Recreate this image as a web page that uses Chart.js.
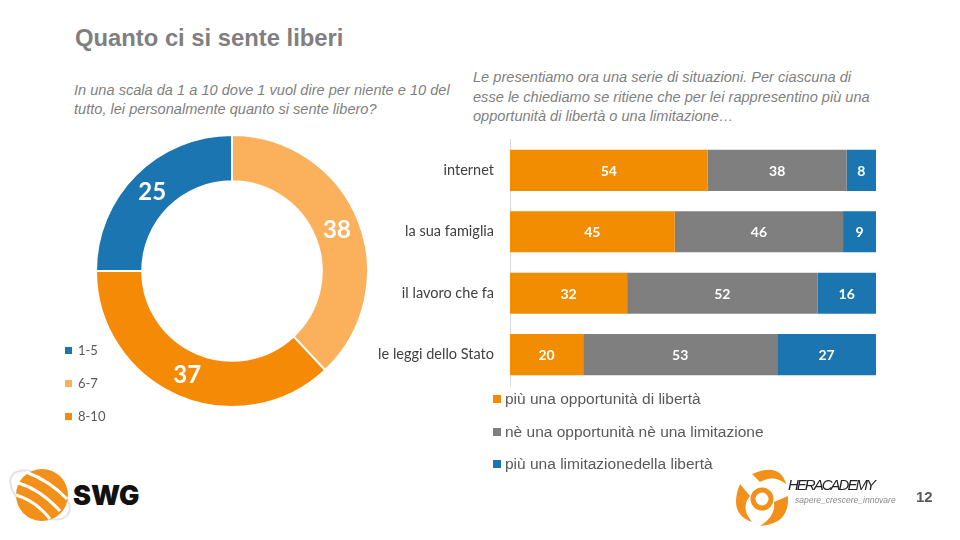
<!DOCTYPE html>
<html>
<head>
<meta charset="utf-8">
<script src="https://cdn.jsdelivr.net/npm/chart.js@4"></script>
<style>
  body { margin: 0; background: #fff; }
  #page { position: relative; width: 960px; height: 540px; overflow: hidden; background: #fff; font-family: "Liberation Sans", Arial, sans-serif; }
  .abs { position: absolute; }
  #title { left: 75px; top: 24px; font-size: 23.8px; font-weight: bold; color: #7f7f7f; }
  .sub { font-style: italic; color: #7f7f7f; font-size: 14.6px; line-height: 18.5px; }
  #subL { left: 74px; top: 81px; width: 385px; }
  #subR { left: 473px; top: 68px; width: 410px; line-height: 19.5px; }
  .leg { font-size: 13px; color: #595959; font-family: Lato, "Open Sans", sans-serif; }
  .leg span.sq { display: inline-block; width: 7px; height: 7px; margin-right: 6px; vertical-align: 1px; }
  .leg2 { font-size: 15.5px; color: #595959; }
  .leg2 span.sq { display: inline-block; width: 8px; height: 8px; margin-right: 4px; vertical-align: 1px; }
  #pnum { left: 916px; top: 488px; font-size: 15px; font-weight: bold; color: #595959; }
</style>
</head>
<body>
<div id="page">
  <div id="title" class="abs">Quanto ci si sente liberi</div>
  <div id="subL" class="abs sub">In una scala da 1 a 10 dove 1 vuol dire per niente e 10 del tutto, lei personalmente quanto si sente libero?</div>
  <div id="subR" class="abs sub">Le presentiamo ora una serie di situazioni. Per ciascuna di esse le chiediamo se ritiene che per lei rappresentino più una opportunità di libertà o una limitazione…</div>

  <canvas id="donut" class="abs" style="left:95px;top:134px" width="274" height="274"></canvas>
  <div id="donutLegend"></div>

  <canvas id="bars" class="abs" style="left:350px;top:115px" width="526" height="295"></canvas>
  <div id="barLegend"></div>

  <svg class="abs" style="left:0;top:455px" width="160" height="80">
    <ellipse cx="40" cy="40" rx="34" ry="18" fill="none" stroke="#e3e3e3" stroke-width="2" transform="rotate(35 40 40)"/>
    <circle cx="42" cy="40" r="26" fill="#f39019"/>
    <path d="M18 28 Q40 34 60 56" stroke="#fff" stroke-width="3" fill="none"/>
    <path d="M16 40 Q36 46 50 64" stroke="#fff" stroke-width="3" fill="none"/>
    <path d="M26 17 Q50 26 67 44" stroke="#fff" stroke-width="3" fill="none"/>
    <text x="73" y="50" font-family="Inter, 'DejaVu Sans', sans-serif" font-weight="900" font-size="27" fill="#111">SWG</text>
  </svg>

  <svg class="abs" style="left:730px;top:462px" width="180" height="70">
    <path d="M22 12 Q50 0 56 22 Q44 12 30 20 Z" fill="#f39019"/>
    <path d="M10 22 Q-2 52 22 60 Q10 46 20 34 Z" fill="#f39019"/>
    <path d="M58 34 Q60 62 30 64 Q46 54 44 40 Z" fill="#f39019"/>
    <circle cx="32" cy="37" r="9" fill="none" stroke="#f39019" stroke-width="5"/>
    <text x="58" y="28" font-family="'Liberation Sans', Arial" font-style="italic" font-size="15" fill="#222" textLength="88">HERACADEMY</text>
    <text x="65" y="41" font-family="'Liberation Sans', Arial" font-style="italic" font-size="8.5" fill="#888">sapere_crescere_innovare</text>
  </svg>

  <div id="pnum" class="abs">12</div>
</div>

<script>
// donut data
const donutLabels = ["1-5", "6-7", "8-10"];
const donutValues = [25, 38, 37];
const donutColors = ["#1a75b0", "#fbb05c", "#f58a07"];

// bar data
const barCategories = ["internet", "la sua famiglia", "il lavoro che fa", "le leggi dello Stato"];
const seriesNames = ["più una opportunità di libertà", "nè una opportunità nè una limitazione", "più una limitazionedella libertà"];
const seriesOpportunita = [54, 45, 32, 20];
const seriesNeutro = [38, 46, 52, 53];
const seriesLimitazione = [8, 9, 16, 27];
const barColors = ["#f28c00", "#7f7f7f", "#1a75b0"];

// write values on each element
const valueLabels = {
  id: "valueLabels",
  afterDatasetsDraw(chart, args, opts) {
    const ctx = chart.ctx;
    ctx.save();
    ctx.fillStyle = "#fff";
    ctx.font = opts.font;
    ctx.textAlign = "center";
    ctx.textBaseline = "middle";
    chart.data.datasets.forEach((ds, i) => {
      chart.getDatasetMeta(i).data.forEach((el, j) => {
        let p;
        if (chart.config.type === "doughnut") {
          p = el.tooltipPosition();
        } else {
          p = el.getCenterPoint();
        }
        ctx.fillText(ds.data[j], p.x, p.y + 1);
      });
    });
    ctx.restore();
  }
};

new Chart(document.getElementById("donut"), {
  type: "doughnut",
  data: {
    labels: donutLabels,
    datasets: [{
      data: donutValues,
      backgroundColor: donutColors,
      borderColor: "#fff",
      borderWidth: 2
    }]
  },
  options: {
    responsive: false,
    animation: false,
    rotation: 270,
    cutout: "66%",
    layout: { padding: 0 },
    plugins: {
      legend: { display: false },
      tooltip: { enabled: false },
      valueLabels: { font: "bold 24px Lato, 'Open Sans', sans-serif" }
    }
  },
  plugins: [valueLabels]
});

new Chart(document.getElementById("bars"), {
  type: "bar",
  data: {
    labels: barCategories,
    datasets: [
      { label: seriesNames[0], data: seriesOpportunita, backgroundColor: barColors[0] },
      { label: seriesNames[1], data: seriesNeutro, backgroundColor: barColors[1] },
      { label: seriesNames[2], data: seriesLimitazione, backgroundColor: barColors[2] }
    ]
  },
  options: {
    responsive: false,
    animation: false,
    indexAxis: "y",
    categoryPercentage: 1,
    barPercentage: 0.67,
    layout: { padding: 0 },
    scales: {
      x: { stacked: true, display: false, min: 0, max: 100 },
      y: {
        stacked: true,
        grid: { display: false, drawTicks: false },
        border: { display: true, color: "#d9d9d9", width: 1 },
        ticks: { color: "#404040", font: { family: "Lato, 'Open Sans', sans-serif", size: 14.5 }, padding: 16 },
        afterFit(scale) { scale.width = 160; }
      }
    },
    plugins: {
      legend: { display: false },
      tooltip: { enabled: false },
      valueLabels: { font: "bold 14px Lato, 'Open Sans', sans-serif" }
    }
  },
  plugins: [valueLabels]
});

// legends
const dl = document.getElementById("donutLegend");
donutLabels.forEach((l, i) => {
  const d = document.createElement("div");
  d.className = "abs leg";
  d.style.left = "65px";
  d.style.top = (342 + i * 33) + "px";
  d.innerHTML = '<span class="sq" style="background:' + donutColors[i] + '"></span>' + l;
  dl.appendChild(d);
});
const bl = document.getElementById("barLegend");
seriesNames.forEach((l, i) => {
  const d = document.createElement("div");
  d.className = "abs leg2";
  d.style.left = "493px";
  d.style.top = (390 + i * 32.5) + "px";
  d.innerHTML = '<span class="sq" style="background:' + barColors[i] + '"></span>' + l;
  bl.appendChild(d);
});
</script>
</body>
</html>
